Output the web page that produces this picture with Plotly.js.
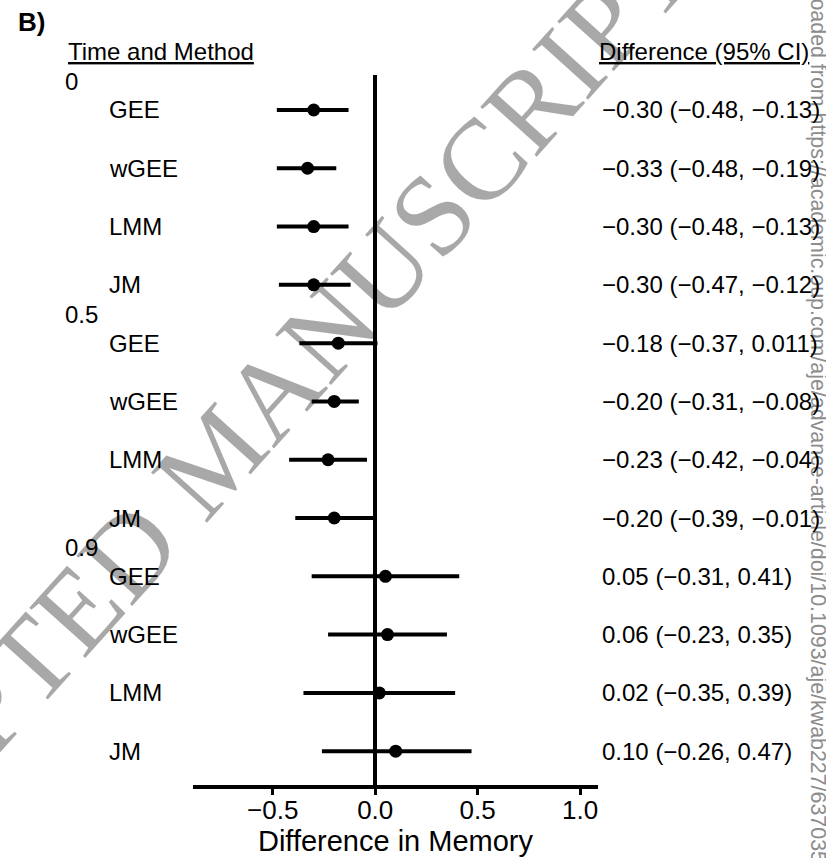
<!DOCTYPE html>
<html><head><meta charset="utf-8">
<script src="https://cdn.plot.ly/plotly-3.0.1.min.js"></script>
<style>html,body{margin:0;padding:0;background:#fff}#chart{width:826px;height:858px}</style>
</head><body><div id="chart"></div>
<script>
// ---- data ----
const groups = ["0", "0.5", "0.9"];
const methods = ["GEE", "wGEE", "LMM", "JM"];
const estimate = [-0.30, -0.33, -0.30, -0.30, -0.18, -0.20, -0.23, -0.20, 0.05, 0.06, 0.02, 0.10];
const lower    = [-0.48, -0.48, -0.48, -0.47, -0.37, -0.31, -0.42, -0.39, -0.31, -0.23, -0.35, -0.26];
const upper    = [-0.13, -0.19, -0.13, -0.12, 0.011, -0.08, -0.04, -0.01, 0.41, 0.35, 0.39, 0.47];
const ciLabels = [
  "\u22120.30 (\u22120.48, \u22120.13)",
  "\u22120.33 (\u22120.48, \u22120.19)",
  "\u22120.30 (\u22120.48, \u22120.13)",
  "\u22120.30 (\u22120.47, \u22120.12)",
  "\u22120.18 (\u22120.37, 0.011)",
  "\u22120.20 (\u22120.31, \u22120.08)",
  "\u22120.23 (\u22120.42, \u22120.04)",
  "\u22120.20 (\u22120.39, \u22120.01)",
  "0.05 (\u22120.31, 0.41)",
  "0.06 (\u22120.23, 0.35)",
  "0.02 (\u22120.35, 0.39)",
  "0.10 (\u22120.26, 0.47)"
];
const xTickVals = [-0.5, 0, 0.5, 1.0];
const xTickText = ["\u22120.5", "0.0", "0.5", "1.0"];

// ---- layout geometry ----
const W = 826, H = 858, L = 193, R = 228, T = 75, B = 73;
const pw = W - L - R, ph = H - T - B;
const px2x = px => (px - L) / pw;
const py2y = py => (H - B - py) / ph;
const FONT = "Liberation Sans, Arial, Helvetica, sans-serif";
const FS = 24;

const n = estimate.length;
const rows = estimate.map((_, i) => n - i);

const trace = {
  type: "scatter", mode: "markers",
  x: estimate, y: rows,
  marker: {color: "black", size: 13},
  error_x: {
    type: "data", symmetric: false,
    array: upper.map((u, i) => u - estimate[i]),
    arrayminus: lower.map((l, i) => estimate[i] - l),
    color: "black", thickness: 4, width: 0
  },
  hoverinfo: "skip", showlegend: false
};

const ann = [];
// watermark (translucent black: grey on white, black stays black)
ann.push({text: "ACCEPTED MANUSCRIPT", xref: "paper", yref: "paper",
  x: px2x(216), y: py2y(456), xanchor: "center", yanchor: "middle",
  textangle: -48, showarrow: false,
  font: {family: "Liberation Serif, Times New Roman, serif", size: 115, color: "rgba(0,0,0,0.34)"}});
// side download text
ann.push({text: "Downloaded from https://academic.oup.com/aje/advance-article/doi/10.1093/aje/kwab227/6370353",
  xref: "paper", yref: "paper", x: px2x(818), y: py2y(-63), xanchor: "center", yanchor: "top",
  textangle: 90, showarrow: false, font: {family: FONT, size: 21.4, color: "#8c8c8c"}});

ann.push({text: "<b>B)</b>", xref: "paper", yref: "paper", x: px2x(16), y: py2y(22),
  xanchor: "left", yanchor: "middle", showarrow: false, font: {family: FONT, size: 26, color: "black"}});
ann.push({text: "<u>Time and Method</u>", xref: "paper", yref: "paper", x: px2x(66), y: py2y(51),
  xanchor: "left", yanchor: "middle", showarrow: false, font: {family: FONT, size: FS, color: "black"}});
ann.push({text: "<u>Difference (95% CI)</u>", xref: "paper", yref: "paper", x: px2x(597), y: py2y(51),
  xanchor: "left", yanchor: "middle", showarrow: false, font: {family: FONT, size: FS, color: "black"}});

groups.forEach((g, gi) => {
  ann.push({text: g, xref: "paper", yref: "y", x: px2x(63), y: n - gi * methods.length + 0.49,
    xanchor: "left", yanchor: "middle", showarrow: false, font: {family: FONT, size: FS, color: "black"}});
});
rows.forEach((r, i) => {
  ann.push({text: methods[i % methods.length], xref: "paper", yref: "y", x: px2x(107), y: r,
    xanchor: "left", yanchor: "middle", showarrow: false, font: {family: FONT, size: FS, color: "black"}});
  ann.push({text: ciLabels[i], xref: "paper", yref: "y", x: px2x(600), y: r,
    xanchor: "left", yanchor: "middle", showarrow: false, font: {family: FONT, size: FS, color: "black"}});
});

const layout = {
  width: W, height: H,
  margin: {l: L, r: R, t: T, b: B, pad: 0},
  paper_bgcolor: "white", plot_bgcolor: "white",
  font: {family: FONT, color: "black"},
  showlegend: false,
  xaxis: {
    range: [-0.889, 1.087], showline: true, linecolor: "black", linewidth: 4,
    ticks: "outside", ticklen: 6, tickwidth: 3, tickcolor: "black",
    ticklabelstandoff: -7,
    tickvals: xTickVals, ticktext: xTickText, tickfont: {family: FONT, size: 26, color: "black"},
    showgrid: false, zeroline: true, zerolinecolor: "black", zerolinewidth: 4,
    title: {text: "Difference in Memory", font: {family: FONT, size: 29, color: "black"}, standoff: 2},
    fixedrange: true, automargin: false
  },
  yaxis: {
    range: [0.42, 12.6], visible: false, showgrid: false, zeroline: false, fixedrange: true
  },
  annotations: ann
};

Plotly.newPlot("chart", [trace], layout, {displayModeBar: false, staticPlot: true});
</script>
</body></html>
